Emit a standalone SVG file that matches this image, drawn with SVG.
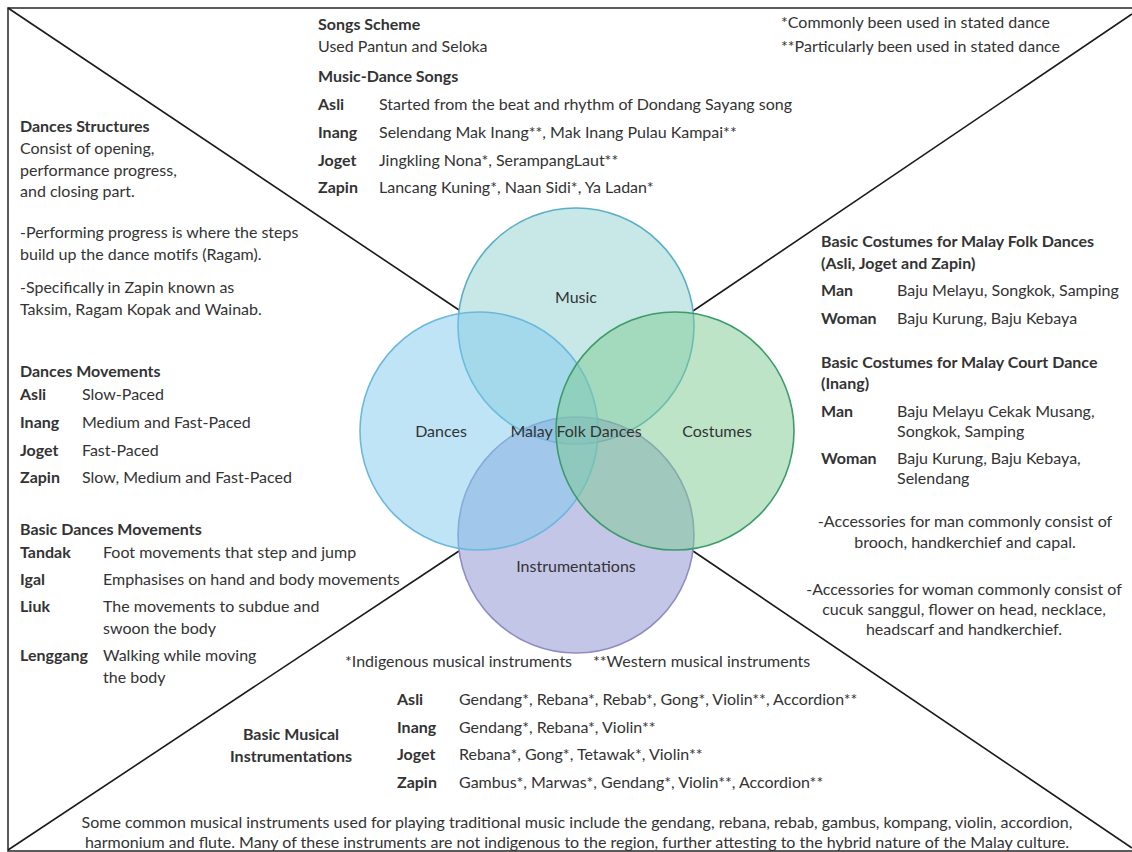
<svg xmlns="http://www.w3.org/2000/svg" width="1132" height="852" viewBox="0 0 1132 852">
<style>
text{font-family:Lato,"Liberation Sans",sans-serif;font-size:16px;fill:#333}
.b{font-weight:bold}
.c{text-anchor:middle}
.ln{stroke:#1a1a1a;stroke-width:1.6;fill:none}
.circ{stroke-width:1.6}
</style>
<rect x="0" y="0" width="1132" height="852" fill="#fff"/>
<g id="frame">
<rect x="8" y="8" width="1140" height="843" fill="none" stroke="#333" stroke-width="1.6"/>
</g>
<g id="connectors">
<line class="ln" x1="8" y1="8" x2="459" y2="310"/>
<line class="ln" x1="1132" y1="14" x2="693" y2="311"/>
<line class="ln" x1="8" y1="850" x2="459" y2="551"/>
<line class="ln" x1="1132" y1="848" x2="693" y2="551"/>
</g>
<g id="venn">
<g id="music"><circle class="circ" cx="576" cy="326" r="118" fill="rgb(145,209,209)" fill-opacity="0.5" stroke="#5aaec8"/></g>
<g id="instrumentations"><circle class="circ" cx="576" cy="535" r="118" fill="rgb(137,141,209)" fill-opacity="0.5" stroke="#8f8cc4"/></g>
<g id="dances"><circle class="circ" cx="479" cy="431" r="119" fill="rgb(125,201,237)" fill-opacity="0.5" stroke="#6cb8dc"/></g>
<g id="costumes"><circle class="circ" cx="675" cy="431" r="119" fill="rgb(125,201,145)" fill-opacity="0.5" stroke="#3d9b6b"/></g>
<text class="c" x="576" y="303">Music</text>
<text class="c" x="441" y="437">Dances</text>
<text class="c" x="576" y="437">Malay Folk Dances</text>
<text class="c" x="717" y="437">Costumes</text>
<text class="c" x="576" y="572">Instrumentations</text>
</g>
<g id="music-text">
<text class="b" x="318" y="30">Songs Scheme</text>
<text x="318" y="52">Used Pantun and Seloka</text>
<text class="b" x="318" y="82">Music-Dance Songs</text>
<text class="b" x="318" y="110">Asli</text><text x="379" y="110">Started from the beat and rhythm of Dondang Sayang song</text>
<text class="b" x="318" y="138">Inang</text><text x="379" y="138">Selendang Mak Inang**, Mak Inang Pulau Kampai**</text>
<text class="b" x="318" y="166">Joget</text><text x="379" y="166">Jingkling Nona*, SerampangLaut**</text>
<text class="b" x="318" y="193">Zapin</text><text x="379" y="193">Lancang Kuning*, Naan Sidi*, Ya Ladan*</text>
<text x="781" y="28">*Commonly been used in stated dance</text>
<text x="781" y="52">**Particularly been used in stated dance</text>
</g>
<g id="dances-text">
<text class="b" x="20" y="132">Dances Structures</text>
<text x="20" y="154">Consist of opening,</text>
<text x="20" y="176">performance progress,</text>
<text x="20" y="197">and closing part.</text>
<text x="20" y="238">-Performing progress is where the steps</text>
<text x="20" y="260">build up the dance motifs (Ragam).</text>
<text x="20" y="293">-Specifically in Zapin known as</text>
<text x="20" y="315">Taksim, Ragam Kopak and Wainab.</text>
<text class="b" x="20" y="377">Dances Movements</text>
<text class="b" x="20" y="400">Asli</text><text x="82" y="400">Slow-Paced</text>
<text class="b" x="20" y="428">Inang</text><text x="82" y="428">Medium and Fast-Paced</text>
<text class="b" x="20" y="456">Joget</text><text x="82" y="456">Fast-Paced</text>
<text class="b" x="20" y="483">Zapin</text><text x="82" y="483">Slow, Medium and Fast-Paced</text>
<text class="b" x="20" y="535">Basic Dances Movements</text>
<text class="b" x="20" y="558">Tandak</text><text x="103" y="558">Foot movements that step and jump</text>
<text class="b" x="20" y="585">Igal</text><text x="103" y="585">Emphasises on hand and body movements</text>
<text class="b" x="20" y="612">Liuk</text><text x="103" y="612">The movements to subdue and</text>
<text x="103" y="634">swoon the body</text>
<text class="b" x="20" y="661">Lenggang</text><text x="103" y="661">Walking while moving</text>
<text x="103" y="683">the body</text>
</g>
<g id="costumes-text">
<text class="b" x="821" y="247">Basic Costumes for Malay Folk Dances</text>
<text class="b" x="821" y="269">(Asli, Joget and Zapin)</text>
<text class="b" x="821" y="296">Man</text><text x="897" y="296">Baju Melayu, Songkok, Samping</text>
<text class="b" x="821" y="324">Woman</text><text x="897" y="324">Baju Kurung, Baju Kebaya</text>
<text class="b" x="821" y="368">Basic Costumes for Malay Court Dance</text>
<text class="b" x="821" y="389">(Inang)</text>
<text class="b" x="821" y="417">Man</text><text x="897" y="417">Baju Melayu Cekak Musang,</text>
<text x="897" y="437">Songkok, Samping</text>
<text class="b" x="821" y="464">Woman</text><text x="897" y="464">Baju Kurung, Baju Kebaya,</text>
<text x="897" y="484">Selendang</text>
<text class="c" x="965" y="527">-Accessories for man commonly consist of</text>
<text class="c" x="965" y="548">brooch, handkerchief and capal.</text>
<text class="c" x="964" y="595">-Accessories for woman commonly consist of</text>
<text class="c" x="964" y="615">cucuk sanggul, flower on head, necklace,</text>
<text class="c" x="964" y="635">headscarf and handkerchief.</text>
</g>
<g id="instrumentations-text">
<text x="345" y="667">*Indigenous musical instruments</text>
<text x="593" y="667">**Western musical instruments</text>
<text class="b c" x="291" y="740">Basic Musical</text>
<text class="b c" x="291" y="762">Instrumentations</text>
<text class="b" x="397" y="705">Asli</text><text x="459" y="705">Gendang*, Rebana*, Rebab*, Gong*, Violin**, Accordion**</text>
<text class="b" x="397" y="733">Inang</text><text x="459" y="733">Gendang*, Rebana*, Violin**</text>
<text class="b" x="397" y="760">Joget</text><text x="459" y="760">Rebana*, Gong*, Tetawak*, Violin**</text>
<text class="b" x="397" y="788">Zapin</text><text x="459" y="788">Gambus*, Marwas*, Gendang*, Violin**, Accordion**</text>
<text class="c" x="577" y="828">Some common musical instruments used for playing traditional music include the gendang, rebana, rebab, gambus, kompang, violin, accordion,</text>
<text class="c" x="577" y="848">harmonium and flute. Many of these instruments are not indigenous to the region, further attesting to the hybrid nature of the Malay culture.</text>
</g>
</svg>
